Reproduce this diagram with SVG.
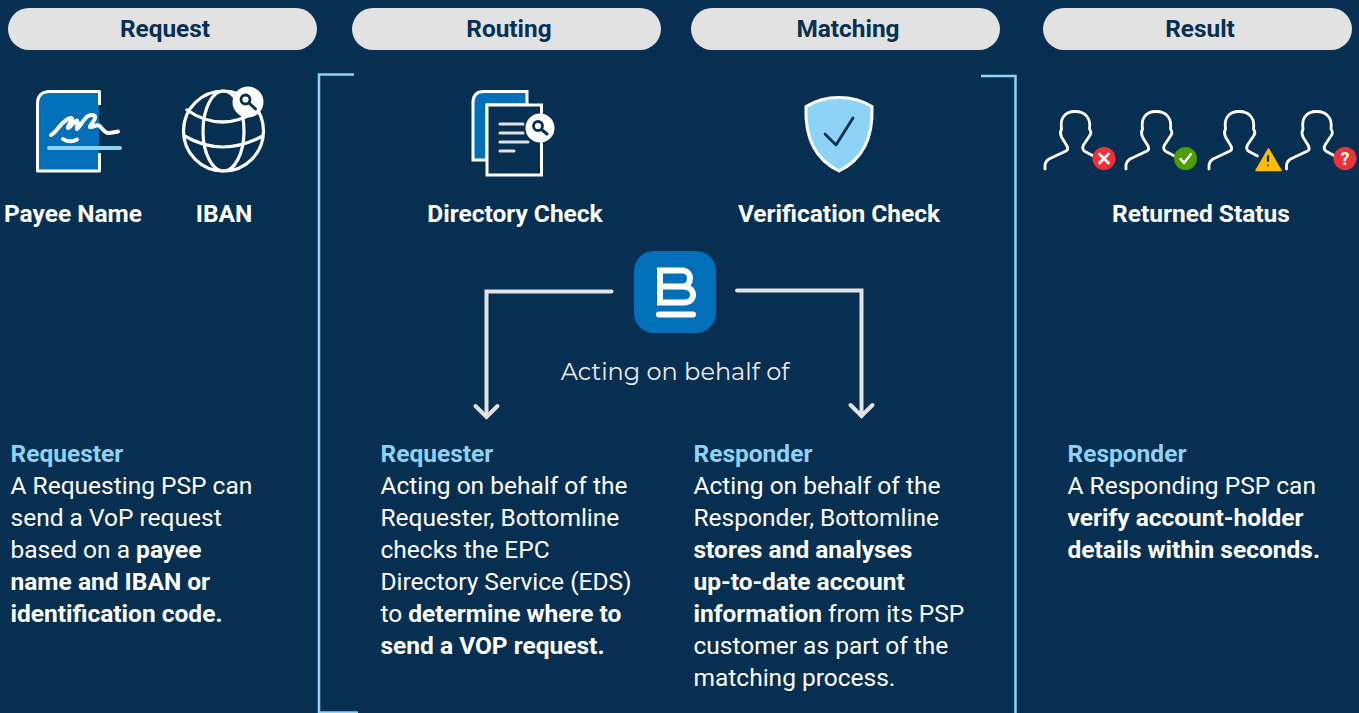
<svg xmlns="http://www.w3.org/2000/svg" width="1359" height="713" viewBox="0 0 1359 713">
<style>
.pill{fill:#e2e2e2}
.ph{font:700 24.400px Roboto,"Liberation Sans",sans-serif;fill:#062f52;text-anchor:middle}
.lbl{font:700 24.500px Roboto,"Liberation Sans",sans-serif;fill:#fff;text-anchor:middle}
.body{font:400 24.500px Roboto,"Liberation Sans",sans-serif;fill:#fff}
.b{font-weight:700}
.hd{font-weight:700;fill:#8dd3f6}
.wl{fill:none;stroke:#fff;stroke-width:3.200;stroke-linecap:round;stroke-linejoin:round}
.br{fill:none;stroke:#8dd3f6;stroke-width:2.500}
.conn{fill:none;stroke:#e2e2e2;stroke-width:4;stroke-linecap:round;stroke-linejoin:miter}
</style>
<defs>
<path id="person" d="M0 0V-3C0 -6 1 -8 4 -10L21 -18C23 -19 23 -21 22 -23L16.500 -32C15 -35 15.500 -38 16.500 -40C15 -50 19 -57.500 30 -57.500C41 -57.500 46 -50 44.500 -40C46 -38 46 -35 44.500 -33L38.500 -24C37 -21 37.500 -19 40 -17.500L48.500 -13" fill="none" stroke="#fff" stroke-width="2.800" stroke-linecap="round" stroke-linejoin="round"/>
</defs>
<rect width="1359" height="713" fill="#062f52"/>
<g id="header-request"><rect class="pill" x="8" y="8" width="309" height="42" rx="21"/><text class="ph" x="165" y="37">Request</text></g>
<g id="header-routing"><rect class="pill" x="352" y="8" width="309" height="42" rx="21"/><text class="ph" x="509" y="37">Routing</text></g>
<g id="header-matching"><rect class="pill" x="691" y="8" width="309" height="42" rx="21"/><text class="ph" x="848" y="37">Matching</text></g>
<g id="header-result"><rect class="pill" x="1043" y="8" width="309" height="42" rx="21"/><text class="ph" x="1200" y="37">Result</text></g>
<g id="bracket">
<path class="br" d="M354 74.500H319V712.500H358"/>
<path class="br" d="M981 76H1015.500V713"/>
</g>
<g id="payee-name">
<path d="M99 92H50Q38 92 38 104V171H99Z" fill="#0170b9"/>
<path class="wl" style="stroke-width:3;stroke-linecap:butt" d="M99.500 105V91.500H50Q37.500 91.500 37.500 104V171H99.500V153"/>
<path d="M51 135C56 133 60 124 64 122C67 119 71 117 72 118.500C72 122 67 126 68 128C71 127 74 121 77 120.500C79 122 76 127 77 129C80 127 84 118 88 116C92 114 96 115 95 118C94 122 90 125 90 127C93 128 96 124 99 125.500C102 128 105 133 108 133C112 133 115 132 118 131.500M63 139C67 142 73 142 77 139.500" fill="none" stroke="#fff" stroke-width="4" stroke-linecap="round" stroke-linejoin="round"/>
<path d="M49 148H120" stroke="#8dd3f6" stroke-width="4" stroke-linecap="round"/>
<text class="lbl" x="73" y="222">Payee Name</text>
</g>
<g id="iban">
<circle class="wl" cx="223.500" cy="131" r="40"/>
<ellipse class="wl" cx="223.500" cy="131" rx="20.500" ry="40"/>
<path class="wl" d="M187 110Q222 134 258 110M184.500 136Q223 158 262.500 136"/>
<circle cx="248" cy="102" r="15.500" fill="#fff"/>
<circle cx="245.500" cy="99.500" r="4.500" fill="none" stroke="#062f52" stroke-width="2.800"/>
<path d="M249 103L255.500 109" stroke="#062f52" stroke-width="3" stroke-linecap="round"/>
<text class="lbl" x="224" y="222">IBAN</text>
</g>
<g id="directory-check">
<path d="M527 91.500H484Q473 91.500 473 102.500V160H487V105H527Z" fill="#0170b9" stroke="#fff" stroke-width="3"/>
<rect x="487" y="105" width="54.500" height="70" fill="#062f52" stroke="#fff" stroke-width="3"/>
<path d="M500 124H523M500 133H523M500 142H528M500 151H514" stroke="#e2e2e2" stroke-width="3" stroke-linecap="round"/>
<circle cx="540" cy="128" r="14.500" fill="#fff"/>
<circle cx="538" cy="126" r="4.500" fill="none" stroke="#062f52" stroke-width="2.800"/>
<path d="M541.500 129.500L547 134" stroke="#062f52" stroke-width="3" stroke-linecap="round"/>
<text class="lbl" x="515" y="222">Directory Check</text>
</g>
<g id="verification-check">
<path d="M839 97.500C850 97.500 863 101 872 106.500C873 130 868 157 839 171C810 157 805 130 806 106.500C815 101 828 97.500 839 97.500Z" fill="#8dd3f6" stroke="#fff" stroke-width="3"/>
<path d="M825 134L836 145L853 118" fill="none" stroke="#062f52" stroke-width="2.800" stroke-linecap="round" stroke-linejoin="round"/>
<text class="lbl" x="839" y="222">Verification Check</text>
</g>
<g id="returned-status">
<use href="#person" x="1045" y="169"/>
<circle cx="1104" cy="158.500" r="11.500" fill="#ee3338"/>
<path d="M1099.500 154L1108.500 163M1108.500 154L1099.500 163" stroke="#fff" stroke-width="2.800" stroke-linecap="round"/>
<use href="#person" x="1126" y="169"/>
<circle cx="1185.500" cy="158.500" r="11.500" fill="#4e9d00"/>
<path d="M1180.500 159L1184 163L1191 154" fill="none" stroke="#fff" stroke-width="2.500" stroke-linecap="round" stroke-linejoin="round"/>
<use href="#person" x="1209" y="169"/>
<path d="M1268.500 149L1281 170.500H1256Z" fill="#ffbc00" stroke="#ffbc00" stroke-width="1.500" stroke-linejoin="round"/>
<path d="M1268 156V161" stroke="#062f52" stroke-width="2.200" stroke-linecap="round"/>
<circle cx="1268" cy="165.500" r="0.900" fill="#062f52"/>
<use href="#person" x="1286.500" y="169"/>
<circle cx="1345" cy="158.500" r="11.500" fill="#ee3338"/>
<text x="1345" y="165" text-anchor="middle" style="font:700 18px Roboto,'Liberation Sans',sans-serif;fill:#fff">?</text>
<text class="lbl" x="1201" y="222">Returned Status</text>
</g>
<g id="connectors">
<path class="conn" d="M611.500 291.500H486.500V416"/>
<path class="conn" d="M475.500 406L486.500 417L497.500 406"/>
<path class="conn" d="M737 290.500H861.500V416"/>
<path class="conn" d="M850.500 405L861.500 416L872.500 405"/>
</g>
<g id="bottomline">
<rect x="634" y="251" width="82" height="82" rx="20" fill="#0170b9"/>
<path d="M682 286.500C687 286.500 690 283 690 278.500C690 275 688 270.500 682 270.500H660V302.500H684C690 302.500 693 299 693 294.500C693 290 689 286.500 682 286.500H660" fill="none" stroke="#fff" stroke-width="6"/>
<path d="M659 314.500H693" stroke="#fff" stroke-width="6" stroke-linecap="round"/>
<text x="675" y="380" text-anchor="middle" style="font:400 24px Montserrat,'Open Sans','Liberation Sans',sans-serif;fill:#e8ecef">Acting on behalf of</text>
</g>
<g id="text-requester">
<text class="body"><tspan class="hd" x="10.500" y="462">Requester</tspan><tspan x="10.500" y="494">A Requesting PSP can</tspan><tspan x="10.500" y="526">send a VoP request</tspan><tspan x="10.500" y="558">based on a </tspan><tspan class="b">payee</tspan><tspan class="b" x="10.500" y="590">name and IBAN or</tspan><tspan class="b" x="10.500" y="622">identification code.</tspan></text>
</g>
<g id="text-routing">
<text class="body"><tspan class="hd" x="380.500" y="462">Requester</tspan><tspan x="380.500" y="494">Acting on behalf of the</tspan><tspan x="380.500" y="526">Requester, Bottomline</tspan><tspan x="380.500" y="558">checks the EPC</tspan><tspan x="380.500" y="590">Directory Service (EDS)</tspan><tspan x="380.500" y="622">to </tspan><tspan class="b">determine where to</tspan><tspan class="b" x="380.500" y="654">send a VOP request.</tspan></text>
</g>
<g id="text-matching">
<text class="body"><tspan class="hd" x="693.500" y="462">Responder</tspan><tspan x="693.500" y="494">Acting on behalf of the</tspan><tspan x="693.500" y="526">Responder, Bottomline</tspan><tspan class="b" x="693.500" y="558">stores and analyses</tspan><tspan class="b" x="693.500" y="590">up-to-date account</tspan><tspan class="b" x="693.500" y="622">information</tspan><tspan> from its PSP</tspan><tspan x="693.500" y="654">customer as part of the</tspan><tspan x="693.500" y="686">matching process.</tspan></text>
</g>
<g id="text-result">
<text class="body"><tspan class="hd" x="1067.500" y="462">Responder</tspan><tspan x="1067.500" y="494">A Responding PSP can</tspan><tspan class="b" x="1067.500" y="526">verify account-holder</tspan><tspan class="b" x="1067.500" y="558">details within seconds.</tspan></text>
</g>
</svg>
